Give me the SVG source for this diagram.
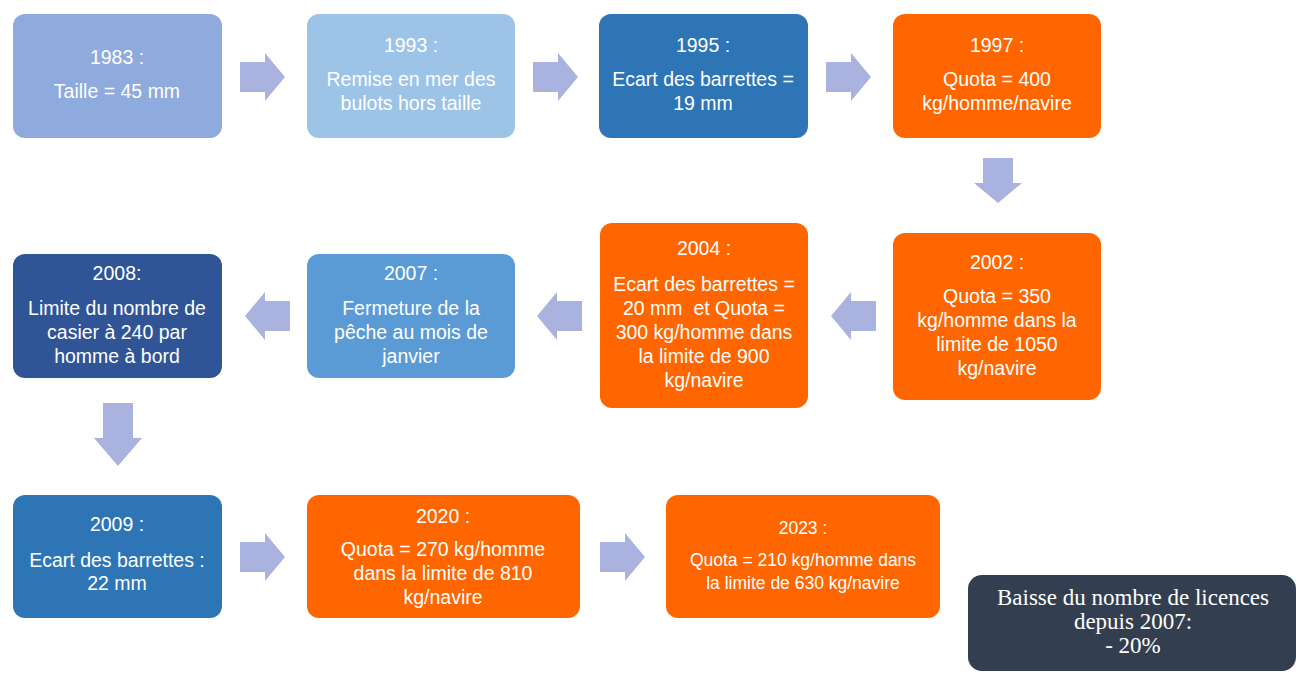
<svg xmlns="http://www.w3.org/2000/svg" width="1296" height="677" viewBox="0 0 1296 677">
  <style>
    .box { stroke: none; }
    .t { font-family: "Liberation Sans", Arial, sans-serif; font-size: 19.5px; fill: #ffffff; text-anchor: middle; }
    .ts { font-family: "Liberation Sans", Arial, sans-serif; font-size: 17.5px; fill: #ffffff; text-anchor: middle; }
    .serif { font-family: "Liberation Serif", "Times New Roman", serif; font-size: 23px; fill: #ffffff; text-anchor: middle; }
    .arrow { fill: #aab3df; }
    .lavender { fill: #8faadc; }
    .sky { fill: #9dc3e6; }
    .mid { fill: #2e75b6; }
    .light { fill: #5b9bd5; }
    .navy { fill: #2f5597; }
    .orange { fill: #ff6600; }
    .slate { fill: #333f50; }
  </style>
  <defs>
    <!-- block arrow pointing right, origin at tail centre -->
    <path id="arR" d="M0,-15 H25 V-24 L45,0 L25,24 V15 H0 Z"/>
  </defs>
  <rect width="1296" height="677" fill="#ffffff"/>

  <g id="connectors" class="arrow">
    <use href="#arR" x="240" y="77"/>
    <use href="#arR" x="533" y="77"/>
    <use href="#arR" x="826" y="77"/>
    <use href="#arR" transform="translate(998,158) rotate(90)"/>
    <use href="#arR" transform="translate(876,316) rotate(180)"/>
    <use href="#arR" transform="translate(582,316) rotate(180)"/>
    <use href="#arR" transform="translate(290,316) rotate(180)"/>
    <use href="#arR" transform="translate(118,403) rotate(90) scale(1.4,1)"/>
    <use href="#arR" x="240" y="557"/>
    <use href="#arR" x="600" y="557"/>
  </g>

  <g id="n1983">
    <rect class="box lavender" x="13" y="14" width="209" height="124" rx="12"/>
    <text class="t" x="117" y="64">1983 :</text>
    <text class="t" x="117" y="98">Taille = 45 mm</text>
  </g>
  <g id="n1993">
    <rect class="box sky" x="307" y="14" width="208" height="124" rx="12"/>
    <text class="t" x="411" y="52">1993 :</text>
    <text class="t" x="411" y="86">Remise en mer des</text>
    <text class="t" x="411" y="110">bulots hors taille</text>
  </g>
  <g id="n1995">
    <rect class="box mid" x="599" y="14" width="209" height="124" rx="12"/>
    <text class="t" x="703" y="52">1995 :</text>
    <text class="t" x="703" y="86">Ecart des barrettes =</text>
    <text class="t" x="703" y="110">19 mm</text>
  </g>
  <g id="n1997">
    <rect class="box orange" x="893" y="14" width="208" height="124" rx="12"/>
    <text class="t" x="997" y="52">1997 :</text>
    <text class="t" x="997" y="86">Quota = 400</text>
    <text class="t" x="997" y="110">kg/homme/navire</text>
  </g>

  <g id="n2002">
    <rect class="box orange" x="893" y="233" width="208" height="167" rx="12"/>
    <text class="t" x="997" y="269">2002 :</text>
    <text class="t" x="997" y="303">Quota = 350</text>
    <text class="t" x="997" y="327">kg/homme dans la</text>
    <text class="t" x="997" y="351">limite de 1050</text>
    <text class="t" x="997" y="375">kg/navire</text>
  </g>
  <g id="n2004">
    <rect class="box orange" x="600" y="223" width="208" height="185" rx="12"/>
    <text class="t" x="704" y="255">2004 :</text>
    <text class="t" x="704" y="291">Ecart des barrettes =</text>
    <text class="t" x="704" y="315" xml:space="preserve">20 mm  et Quota =</text>
    <text class="t" x="704" y="339">300 kg/homme dans</text>
    <text class="t" x="704" y="363">la limite de 900</text>
    <text class="t" x="704" y="387">kg/navire</text>
  </g>
  <g id="n2007">
    <rect class="box light" x="307" y="254" width="208" height="124" rx="12"/>
    <text class="t" x="411" y="280">2007 :</text>
    <text class="t" x="411" y="315">Fermeture de la</text>
    <text class="t" x="411" y="339">pêche au mois de</text>
    <text class="t" x="411" y="363">janvier</text>
  </g>
  <g id="n2008">
    <rect class="box navy" x="13" y="254" width="209" height="124" rx="12"/>
    <text class="t" x="117" y="280">2008:</text>
    <text class="t" x="117" y="315">Limite du nombre de</text>
    <text class="t" x="117" y="339">casier à 240 par</text>
    <text class="t" x="117" y="363">homme à bord</text>
  </g>

  <g id="n2009">
    <rect class="box mid" x="13" y="495" width="209" height="123" rx="12"/>
    <text class="t" x="117" y="531">2009 :</text>
    <text class="t" x="117" y="567">Ecart des barrettes :</text>
    <text class="t" x="117" y="590">22 mm</text>
  </g>
  <g id="n2020">
    <rect class="box orange" x="307" y="495" width="273" height="123" rx="12"/>
    <text class="t" x="443" y="523">2020 :</text>
    <text class="t" x="443" y="556">Quota = 270 kg/homme</text>
    <text class="t" x="443" y="580">dans la limite de 810</text>
    <text class="t" x="443" y="604">kg/navire</text>
  </g>
  <g id="n2023">
    <rect class="box orange" x="666" y="495" width="274" height="123" rx="12"/>
    <text class="ts" x="803" y="534">2023 :</text>
    <text class="ts" x="803" y="566">Quota = 210 kg/homme dans</text>
    <text class="ts" x="803" y="589">la limite de 630 kg/navire</text>
  </g>
  <g id="licences">
    <rect class="box slate" x="968" y="575" width="328" height="96" rx="14"/>
    <text class="serif" x="1133" y="605">Baisse du nombre de licences</text>
    <text class="serif" x="1133" y="629">depuis 2007:</text>
    <text class="serif" x="1133" y="653">- 20%</text>
  </g>
</svg>
